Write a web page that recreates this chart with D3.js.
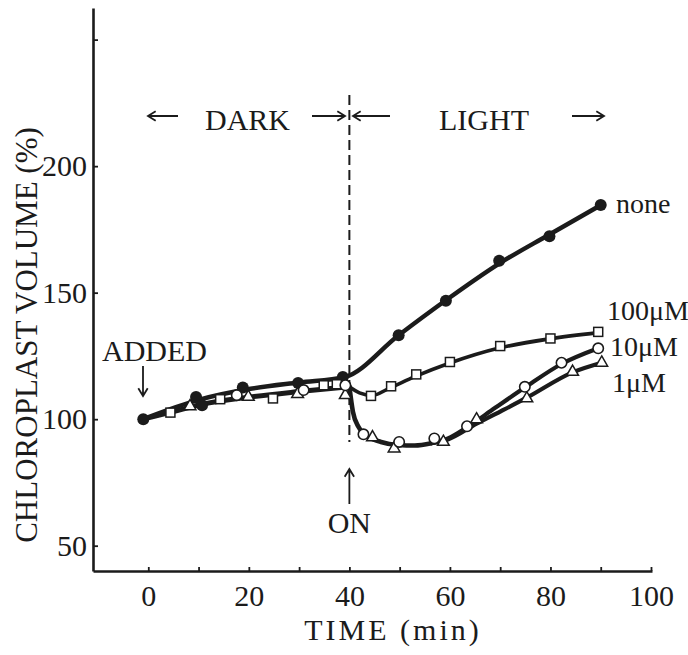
<!DOCTYPE html>
<html><head><meta charset="utf-8">
<script src="https://cdn.jsdelivr.net/npm/d3@7"></script>
<style>html,body{margin:0;padding:0;background:#fff;}svg{display:block;}</style>
</head><body>
<svg id="c" width="688" height="655"></svg>
<script>
// ---- data ----
const xTicks = [0,10,20,30,40,50,60,70,80,90,100];
const xTickLabels = [0,20,40,60,80,100];
const yTicks = [50,100,150,200,250];
const yTickLabels = [50,100,150,200];

// markers: [time (min), volume (%)]
const none = [[-1,100],[9.5,108.8],[18.8,112.5],[29.8,114.3],[38.7,116.7],[49.8,133.2],[59.2,146.8],[69.8,162.6],[79.8,172.3],[90,184.6]];
const noneExtra = [[10.7,105.5]];
const um100 = [[4.4,102.6],[14.3,107.9],[24.8,108.2],[34.9,113.4],[37.5,113.8],[44.3,109.2],[48.3,113],[53.3,117.7],[60,122.6],[70,128.9],[80,131.9],[89.5,134.5]];
const um10 = [[17.6,109.5],[30.9,111.5],[39.2,113.4],[42.8,94],[49.9,91],[56.9,92.4],[63.4,97.2],[74.9,112.8],[82.2,122.3],[89.5,128]];
const um1 = [[8.3,105.1],[19.9,108.8],[29.7,109.9],[39.2,109.5],[44.6,92.8],[48.9,88.4],[58.7,91],[65.3,99.9],[75.3,108.2],[84.4,118.7],[90.2,122.3]];

// fitted curves as drawn in the figure
const fitNone = [[-1,100],[10,107.6],[20,111.9],[30,114.5],[39,116.6],[49.8,133.2],[59.2,147],[69.8,161.5],[79.8,173],[90,184.6]];
const fitDark = [[-1,100],[5,103],[10,105.6],[20,108.7],[30,110.9],[40,112.8]];
const fit100 = [[40,112.8],[42,110.4],[44.5,109.4],[48,112.3],[53,116.8],[60,122.2],[70,128.2],[80,131.8],[89.5,134.2]];
const fitDrop = [[40,112.8],[40.7,103],[41.8,97],[43,94],[46.3,91],[49.7,89.8],[53,89.6],[56.3,90.5]];
const fit10 = [[56.3,90.5],[59.6,92.4],[63.4,96.8],[69,104.5],[74.9,112.5],[82.2,121.8],[89.5,128]];
const fit1 = [[56.3,90.5],[59.6,92],[65.3,98.2],[70,103],[75.3,108.5],[84.4,118.5],[90.2,122.3]];

const seriesLabels = [
  {text:"none", x:616, y:213},
  {text:"100\u03BCM", x:607, y:320},
  {text:"10\u03BCM", x:610, y:356},
  {text:"1\u03BCM", x:612, y:392}
];

// ---- drawing ----
const FONT = "'Liberation Serif', 'DejaVu Serif', serif";
const INK = "#1b1b1b";
const svg = d3.select("#c");
const x = d3.scaleLinear().domain([-11,100.2]).range([93,652]);
const y = d3.scaleLinear().domain([40,262.5]).range([571,8]);

// axes
const gx = svg.append("g").attr("transform",`translate(0,${y(40)})`)
  .call(d3.axisBottom(x).tickValues(xTicks).tickSizeInner(-4).tickSizeOuter(0).tickPadding(14)
    .tickFormat(d => xTickLabels.includes(d) ? d : ""));
const gy = svg.append("g").attr("transform",`translate(${x(-11)},0)`)
  .call(d3.axisLeft(y).tickValues(yTicks).tickSizeInner(-5).tickSizeOuter(0).tickPadding(6)
    .tickFormat(d => yTickLabels.includes(d) ? d : ""));
[gx,gy].forEach(g=>{
  g.attr("font-family",FONT).attr("font-size",30);
  g.select(".domain").attr("stroke",INK).attr("stroke-width",2.6);
  g.selectAll(".tick line").attr("stroke",INK).attr("stroke-width",1.8);
  g.selectAll(".tick text").attr("fill",INK);
});

// titles
svg.append("text").attr("transform",`translate(37,${335}) rotate(-90)`)
  .attr("text-anchor","middle").attr("font-family",FONT).attr("font-size",31).attr("fill",INK)
  .text("CHLOROPLAST VOLUME (%)");
svg.append("text").attr("x",393).attr("y",640).attr("text-anchor","middle")
  .attr("font-family",FONT).attr("font-size",30).attr("letter-spacing",3).attr("fill",INK)
  .text("TIME (min)");

// dashed line at light on
svg.append("line").attr("x1",x(40)).attr("x2",x(40)).attr("y1",95).attr("y2",442)
  .attr("stroke",INK).attr("stroke-width",2).attr("stroke-dasharray","10,5");

// arrows helper
function arrow(x1,y1,x2,y2){
  const a = Math.atan2(y2-y1,x2-x1), h=9, w=0.55;
  const p = `M${x1},${y1}L${x2},${y2}M${x2-h*Math.cos(a-w)},${y2-h*Math.sin(a-w)}L${x2},${y2}L${x2-h*Math.cos(a+w)},${y2-h*Math.sin(a+w)}`;
  svg.append("path").attr("d",p).attr("fill","none").attr("stroke",INK).attr("stroke-width",1.8);
}
arrow(178,116,148,116);
arrow(312,116,345,116);
arrow(390,116,353,116);
arrow(572,116,604,116);
arrow(143,366,143,396);
arrow(x(40),504,x(40),469);

const lab = (t,xx,yy,anchor="start",size=30)=>svg.append("text").attr("x",xx).attr("y",yy)
  .attr("text-anchor",anchor).attr("font-family",FONT).attr("font-size",size).attr("fill",INK).text(t);
lab("DARK",205,130);
lab("LIGHT",439,130);
lab("ADDED",102,361);
lab("ON",x(40),533,"middle");
seriesLabels.forEach(s=>lab(s.text,s.x,s.y,"start",28));

// curves
const line = d3.line().x(d=>x(d[0])).y(d=>y(d[1])).curve(d3.curveMonotoneX);
[[fitDark,5],[fitNone,4.5],[fit100,3.6],[fitDrop,4.6],[fit10,4.2],[fit1,4.2]].forEach(([d,w])=>{
  svg.append("path").datum(d).attr("d",line).attr("fill","none").attr("stroke",INK)
    .attr("stroke-width",w).attr("stroke-linejoin","round").attr("stroke-linecap","round");
});

// markers
const mk = svg.append("g");
mk.selectAll(".fc").data(none.concat(noneExtra)).join("circle")
  .attr("cx",d=>x(d[0])).attr("cy",d=>y(d[1])).attr("r",6).attr("fill",INK);
mk.selectAll(".sq").data(um100).join("rect")
  .attr("x",d=>x(d[0])-4.5).attr("y",d=>y(d[1])-4.5).attr("width",9).attr("height",9)
  .attr("fill","#fff").attr("stroke",INK).attr("stroke-width",1.5);
const tri = d3.symbol().type(d3.symbolTriangle).size(60);
mk.selectAll(".tr").data(um1).join("path")
  .attr("transform",d=>`translate(${x(d[0])},${y(d[1])})`).attr("d",tri)
  .attr("fill","#fff").attr("stroke",INK).attr("stroke-width",1.5);
mk.selectAll(".oc").data(um10).join("circle")
  .attr("cx",d=>x(d[0])).attr("cy",d=>y(d[1])).attr("r",5.2)
  .attr("fill","#fff").attr("stroke",INK).attr("stroke-width",1.6);
</script>
</body></html>
